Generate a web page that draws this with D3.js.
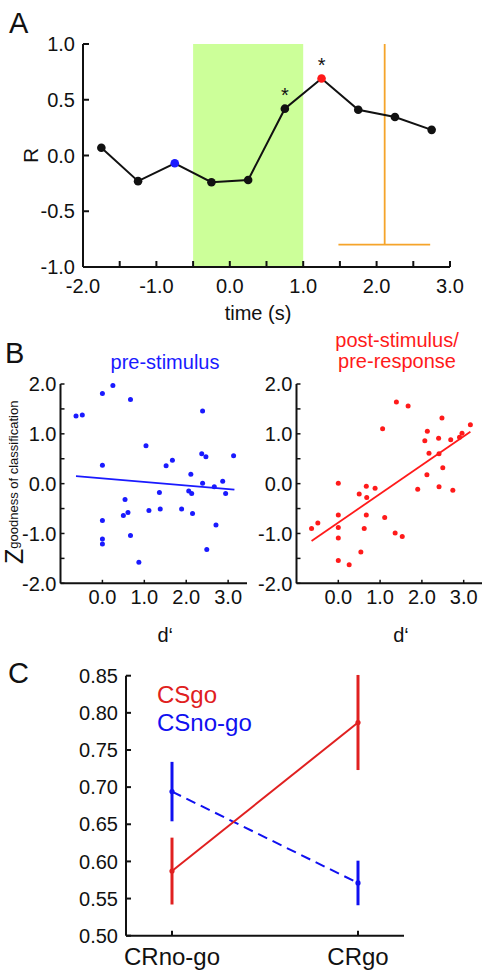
<!DOCTYPE html>
<html><head><meta charset="utf-8">
<script src="https://cdn.jsdelivr.net/npm/d3@7"></script>
<style>
html,body{margin:0;padding:0;background:#fff;}
svg{display:block;font-family:"Liberation Sans",Arial,sans-serif;}
</style></head>
<body>
<svg id="chart" width="482" height="972"></svg>
<script>
// ---------- Panel A data ----------
const timeA = [-1.75, -1.25, -0.75, -0.25, 0.25, 0.75, 1.25, 1.75, 2.25, 2.75];
const rA = [0.07, -0.23, -0.07, -0.24, -0.22, 0.42, 0.69, 0.41, 0.345, 0.23];
const colorA = ["black","black","blue","black","black","black","red","black","black","black"];
const sigA = [false,false,false,false,false,true,true,false,false,false];
const stimWindow = [-0.5, 1.0];
const responseLine = { t: 2.11, r: -0.8, from: 1.48, to: 2.73 };
const ticksAX = [-2.0, -1.0, 0.0, 1.0, 2.0, 3.0];
const ticksAY = [1.0, 0.5, 0.0, -0.5, -1.0];

// ---------- Panel B data ----------
const preD = [-0.63,-0.48,0.0,0.25,0.67,0.0,0.0,0.0,0.0,0.54,0.50,0.61,0.67,0.87,1.04,1.11,1.36,1.38,1.52,1.67,1.89,2.11,2.06,2.13,2.15,2.39,2.37,2.47,2.39,2.49,2.71,2.67,2.87,2.94,3.13];
const preZ = [1.36,1.38,1.81,1.97,1.69,0.37,-0.74,-1.11,-1.21,-0.32,-0.64,-0.58,-1.04,-1.58,0.76,-0.54,-0.18,-0.51,0.36,0.47,-0.51,0.19,-0.15,-0.20,-0.60,1.46,0.60,0.54,0.01,-1.32,-0.83,-0.06,0.05,-0.20,0.56];
const preFit = { x: [-0.63, 3.15], y: [0.15, -0.12] };
const postD = [-0.64,-0.49,0.0,0.0,0.0,0.0,0.0,0.26,0.50,0.54,0.62,0.67,0.68,0.67,0.88,1.06,1.11,1.36,1.39,1.53,1.67,1.90,2.12,2.07,2.13,2.17,2.40,2.41,2.41,2.48,2.50,2.69,2.74,2.90,2.96,3.16];
const postZ = [-0.90,-0.79,0.01,-0.63,-0.88,-1.09,-1.54,-1.63,-0.21,-1.37,-0.90,-0.05,-0.28,-0.63,-0.09,1.10,-0.68,-0.99,1.64,-1.06,1.56,-0.11,0.18,0.86,1.05,0.61,0.91,0.60,-0.06,1.32,0.32,0.88,-0.13,0.93,1.01,1.18];
const postFit = { x: [-0.64, 3.16], y: [-1.15, 1.04] };
const ticksBX = [0.0, 1.0, 2.0, 3.0];
const ticksBY = [2.0, 1.0, 0.0, -1.0, -2.0];
const minorBY = [2.0,1.5,1.0,0.5,0.0,-0.5,-1.0,-1.5,-2.0];

// ---------- Panel C data ----------
const condC = ["CRno-go", "CRgo"];
const csGoMean = [0.587, 0.787];
const csGoErr = [0.045, 0.064];
const csNoGoMean = [0.694, 0.571];
const csNoGoErr = [0.040, 0.030];
const ticksCY = [0.85, 0.80, 0.75, 0.70, 0.65, 0.60, 0.55, 0.50];

const svg = d3.select("#chart");
const FONT = 20;

function axisLine(g, x1, y1, x2, y2, w) {
  g.append("line").attr("x1", x1).attr("y1", y1).attr("x2", x2).attr("y2", y2)
    .attr("stroke", "#111").attr("stroke-width", w || 2);
}

// ================= Panel A =================
{
  const x = d3.scaleLinear().domain([-2, 3]).range([83, 450]);
  const y = d3.scaleLinear().domain([-1, 1]).range([267, 44]);
  const g = svg.append("g");

  g.append("rect").attr("x", x(stimWindow[0])).attr("y", y(1))
    .attr("width", x(stimWindow[1]) - x(stimWindow[0])).attr("height", y(-1) - y(1))
    .attr("fill", "#ccff99");

  g.append("line").attr("x1", x(responseLine.t)).attr("x2", x(responseLine.t))
    .attr("y1", y(1)).attr("y2", y(responseLine.r)).attr("stroke", "#f5a42a").attr("stroke-width", 1.8);
  g.append("line").attr("x1", x(responseLine.from)).attr("x2", x(responseLine.to))
    .attr("y1", y(responseLine.r)).attr("y2", y(responseLine.r)).attr("stroke", "#f5a42a").attr("stroke-width", 1.8);

  axisLine(g, x(-2), y(1), x(-2), y(-1));
  axisLine(g, x(-2), y(-1), x(3), y(-1));
  const xt = d3.range(-2, 3.01, 0.5);
  g.selectAll(".xtA").data(xt).enter().append("line")
    .attr("x1", d => x(d)).attr("x2", d => x(d)).attr("y1", y(-1)).attr("y2", y(-1) - 6)
    .attr("stroke", "#111").attr("stroke-width", 2);
  g.selectAll(".ytA").data(ticksAY).enter().append("line")
    .attr("x1", x(-2)).attr("x2", x(-2) + 6).attr("y1", d => y(d)).attr("y2", d => y(d))
    .attr("stroke", "#111").attr("stroke-width", 2);
  g.selectAll(".xlA").data(ticksAX).enter().append("text")
    .attr("x", d => x(d)).attr("y", 293).attr("text-anchor", "middle")
    .attr("font-size", FONT).attr("fill", "#111").text(d => d3.format(".1f")(d).replace("−", "-"));
  g.selectAll(".ylA").data(ticksAY).enter().append("text")
    .attr("x", 75).attr("y", d => y(d)).attr("dy", "0.36em").attr("text-anchor", "end")
    .attr("font-size", FONT).attr("fill", "#111").text(d => d3.format(".1f")(d).replace("−", "-"));

  g.append("text").attr("x", 258).attr("y", 320).attr("text-anchor", "middle")
    .attr("font-size", FONT).attr("fill", "#111").text("time (s)");
  g.append("text").attr("transform", `translate(38,${y(0)}) rotate(-90)`).attr("text-anchor", "middle")
    .attr("font-size", 21).attr("fill", "#111").text("R");
  g.append("text").attr("x", 9).attr("y", 33).attr("font-size", 29).attr("fill", "#111").text("A");

  const line = d3.line().x((d, i) => x(timeA[i])).y(d => y(d));
  g.append("path").datum(rA).attr("d", line).attr("fill", "none").attr("stroke", "#111").attr("stroke-width", 2);
  g.selectAll(".ptA").data(rA).enter().append("circle")
    .attr("cx", (d, i) => x(timeA[i])).attr("cy", d => y(d)).attr("r", 4.3)
    .attr("fill", (d, i) => colorA[i] === "blue" ? "#1a1aff" : colorA[i] === "red" ? "#ff1a1a" : "#111");
  g.selectAll(".sigA").data(rA.map((d, i) => ({ d, i })).filter(o => sigA[o.i])).enter().append("text")
    .attr("x", o => x(timeA[o.i])).attr("y", o => y(o.d) - 7).attr("text-anchor", "middle")
    .attr("font-size", 20).attr("fill", "#111").text("*");
}

// ================= Panel B =================
function scatterPanel(x0, x1, dVals, zVals, fit, color, showYLabel) {
  const x = d3.scaleLinear().domain([-1, 3.45]).range([x0, x1]);
  const y = d3.scaleLinear().domain([-2, 2]).range([583.3, 384]);
  const g = svg.append("g");
  axisLine(g, x(-1), y(2), x(-1), y(-2));
  axisLine(g, x(-1), y(-2), x(3.45), y(-2));
  g.selectAll(".t").data(minorBY).enter().append("line")
    .attr("x1", x(-1)).attr("x2", x(-1) + 4).attr("y1", d => y(d)).attr("y2", d => y(d))
    .attr("stroke", "#111").attr("stroke-width", 1.5);
  g.selectAll(".tx").data(ticksBX).enter().append("line")
    .attr("x1", d => x(d)).attr("x2", d => x(d)).attr("y1", y(-2)).attr("y2", y(-2) - 3.5)
    .attr("stroke", "#111").attr("stroke-width", 1.5);
  g.selectAll(".xl").data(ticksBX).enter().append("text")
    .attr("x", d => x(d)).attr("y", 604).attr("text-anchor", "middle")
    .attr("font-size", FONT).attr("fill", "#111").text(d => d3.format(".1f")(d));
  g.selectAll(".yl").data(ticksBY).enter().append("text")
    .attr("x", x(-1) - 4).attr("y", d => y(d)).attr("dy", "0.36em").attr("text-anchor", "end")
    .attr("font-size", FONT).attr("fill", "#111").text(d => d3.format(".1f")(d).replace("−", "-"));
  g.append("text").attr("x", x(1.5)).attr("y", 642).attr("text-anchor", "middle")
    .attr("font-size", FONT).attr("fill", "#111").text("d‘");
  g.selectAll(".pt").data(zVals).enter().append("circle")
    .attr("cx", (d, i) => x(dVals[i])).attr("cy", d => y(d)).attr("r", 2.5).attr("fill", color);
  g.append("line").attr("x1", x(fit.x[0])).attr("y1", y(fit.y[0])).attr("x2", x(fit.x[1])).attr("y2", y(fit.y[1]))
    .attr("stroke", color).attr("stroke-width", 1.8);
  if (showYLabel) {
    const t = g.append("text").attr("transform", `translate(23,564) rotate(-90)`).attr("fill", "#111");
    t.append("tspan").attr("font-size", 25).text("Z");
    t.append("tspan").attr("font-size", 13).attr("dy", -5).text("goodness of classification");
  }
  return g;
}
{
  scatterPanel(60.5, 247, preD, preZ, preFit, "#1a1aff", true);
  scatterPanel(296.5, 482.5, postD, postZ, postFit, "#ff1a1a", false);
  svg.append("text").attr("x", 5).attr("y", 363).attr("font-size", 29).attr("fill", "#111").text("B");
  svg.append("text").attr("x", 165).attr("y", 369).attr("text-anchor", "middle").attr("font-size", 20)
    .attr("fill", "#1a1aff").text("pre-stimulus");
  svg.append("text").attr("x", 397).attr("y", 347).attr("text-anchor", "middle").attr("font-size", 20)
    .attr("fill", "#ff1a1a").text("post-stimulus/");
  svg.append("text").attr("x", 397).attr("y", 368).attr("text-anchor", "middle").attr("font-size", 20)
    .attr("fill", "#ff1a1a").text("pre-response");
}

// ================= Panel C =================
{
  const x = d3.scalePoint().domain(condC).range([172, 358]);
  const y = d3.scaleLinear().domain([0.5, 0.85]).range([935.7, 675.7]);
  const g = svg.append("g");
  axisLine(g, 126, y(0.85), 126, y(0.5));
  axisLine(g, 126, y(0.5), 404, y(0.5));
  g.selectAll(".yt").data(ticksCY).enter().append("line")
    .attr("x1", 126).attr("x2", 131).attr("y1", d => y(d)).attr("y2", d => y(d))
    .attr("stroke", "#111").attr("stroke-width", 2);
  g.selectAll(".xt").data(condC).enter().append("line")
    .attr("x1", d => x(d)).attr("x2", d => x(d)).attr("y1", y(0.5)).attr("y2", y(0.5) - 5)
    .attr("stroke", "#111").attr("stroke-width", 2);
  g.selectAll(".yl").data(ticksCY).enter().append("text")
    .attr("x", 118).attr("y", d => y(d)).attr("dy", "0.36em").attr("text-anchor", "end")
    .attr("font-size", FONT).attr("fill", "#111").text(d => d3.format(".2f")(d));
  g.selectAll(".xl").data(condC).enter().append("text")
    .attr("x", d => x(d)).attr("y", 965).attr("text-anchor", "middle")
    .attr("font-size", 24).attr("fill", "#111").text(d => d);

  const series = [
    { mean: csNoGoMean, err: csNoGoErr, color: "#1010f0", dash: "10,6" },
    { mean: csGoMean, err: csGoErr, color: "#e02020", dash: null }
  ];
  series.forEach(s => {
    const ln = d3.line().x((d, i) => x(condC[i])).y(d => y(d));
    g.append("path").datum(s.mean).attr("d", ln).attr("fill", "none").attr("stroke", s.color)
      .attr("stroke-width", 2).attr("stroke-dasharray", s.dash);
    g.selectAll(null).data(s.mean).enter().append("line")
      .attr("x1", (d, i) => x(condC[i])).attr("x2", (d, i) => x(condC[i]))
      .attr("y1", (d, i) => y(d + s.err[i])).attr("y2", (d, i) => y(d - s.err[i]))
      .attr("stroke", s.color).attr("stroke-width", 3);
    g.selectAll(null).data(s.mean).enter().append("circle")
      .attr("cx", (d, i) => x(condC[i])).attr("cy", d => y(d)).attr("r", 2.6).attr("fill", s.color);
  });
  g.append("text").attr("x", 157).attr("y", 703).attr("font-size", 24).attr("fill", "#e02020").text("CSgo");
  g.append("text").attr("x", 157).attr("y", 731).attr("font-size", 24).attr("fill", "#1010f0").text("CSno-go");
  svg.append("text").attr("x", 8).attr("y", 683).attr("font-size", 29).attr("fill", "#111").text("C");
}
</script>
</body></html>
